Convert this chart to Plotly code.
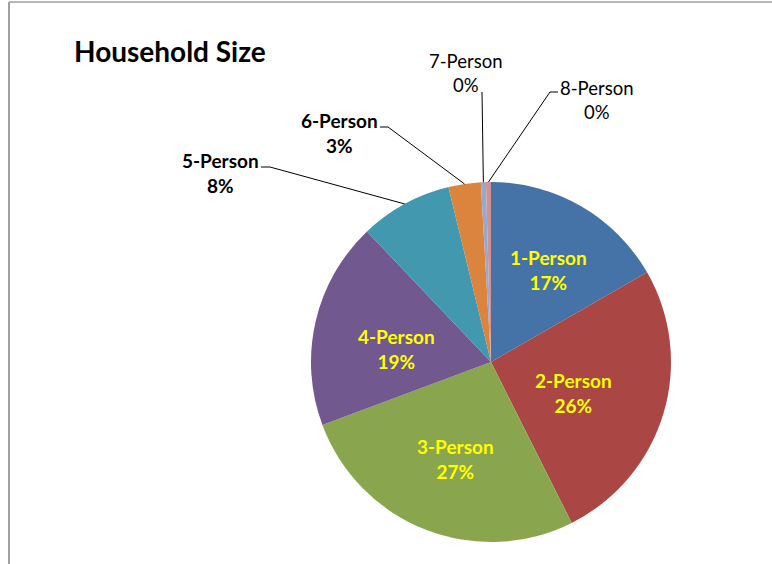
import math
import plotly.graph_objects as go

# Household size distribution (share of households, %)
categories = ["1-Person", "2-Person", "3-Person", "4-Person",
              "5-Person", "6-Person", "7-Person", "8-Person"]
shares = [16.7, 25.9, 26.7, 18.6, 8.3, 2.9, 0.45, 0.45]
colors = ["#4572A7", "#AA4643", "#89A54E", "#71588F",
          "#4198AF", "#DB843D", "#93A9CF", "#D19392"]

W, H = 772, 564
CX, CY, R = 491, 362, 180          # pie centre / radius in pixels
FONT = "Lato"


def px(x):
    return x / W


def py(y):
    return 1 - y / H


fig = go.Figure(go.Pie(
    labels=categories,
    values=shares,
    sort=False,
    direction="clockwise",
    rotation=0,
    marker=dict(colors=colors, line=dict(width=0)),
    textinfo="none",
    hoverinfo="label+percent",
    domain=dict(x=[px(CX - R), px(CX + R)], y=[py(CY + R), py(CY - R)]),
    showlegend=False,
))

# labels inside the slice: radius as fraction of R, angular nudge in degrees
inside_layout = {
    "1-Person": dict(rf=0.605, dang=2.1),
    "2-Person": dict(rf=0.489, dang=3.6),
    "3-Person": dict(rf=0.574, dang=-1.5),
    "4-Person": dict(rf=0.530, dang=-4.9),
}
# labels outside the pie: text centre, elbow start/end, bold
outside_layout = {
    "5-Person": dict(tx=220, ty=173, sx=261, sy=167, ex=270, bold=True),
    "6-Person": dict(tx=339, ty=133, sx=380, sy=127, ex=388, bold=True),
    "7-Person": dict(tx=466, ty=73, sx=482, sy=92, ex=482, bold=False),
    "8-Person": dict(tx=597, ty=100, sx=558, sy=92, ex=550, bold=False),
}

total = sum(shares)
cum = 0.0
annotations = []
shapes = []
for cat, v in zip(categories, shares):
    mid = (cum + v / 2) / total
    cum += v
    pct = round(v / total * 100)
    txt = f"{cat}<br>{pct}%"
    ang = 2 * math.pi * mid
    if cat in inside_layout:
        o = inside_layout[cat]
        a = ang + math.radians(o["dang"])
        r = R * o["rf"]
        annotations.append(dict(
            x=px(CX + r * math.sin(a)), y=py(CY - r * math.cos(a)),
            xref="paper", yref="paper", text=f"<b>{txt}</b>", showarrow=False,
            xanchor="center", yanchor="middle", align="center",
            font=dict(family=FONT, size=19, color="#FFFF00"),
        ))
        continue
    o = outside_layout[cat]
    edge_x = CX + R * math.sin(ang)
    edge_y = CY - R * math.cos(ang)
    annotations.append(dict(
        x=px(o["tx"]), y=py(o["ty"]), xref="paper", yref="paper",
        text=f"<b>{txt}</b>" if o["bold"] else txt,
        showarrow=False, xanchor="center", yanchor="middle", align="center",
        font=dict(family=FONT, size=19 if o["bold"] else 18.5, color="#000000"),
    ))
    path = (f"M{px(o['sx'])},{py(o['sy'])} L{px(o['ex'])},{py(o['sy'])} "
            f"L{px(edge_x)},{py(edge_y)}")
    shapes.append(dict(type="path", xref="paper", yref="paper", path=path,
                       line=dict(color="#000000", width=1)))

annotations.append(dict(
    x=px(72), y=py(51), xref="paper", yref="paper", text="<b>Household Size</b>",
    showarrow=False, xanchor="left", yanchor="middle",
    font=dict(family=FONT, size=28, color="#000000"),
))

# chart-area frame (top and left edges)
shapes.append(dict(type="line", xref="paper", yref="paper",
                   x0=px(9), y0=py(2), x1=1, y1=py(2),
                   line=dict(color="#A0A0A0", width=1.5)))
shapes.append(dict(type="line", xref="paper", yref="paper",
                   x0=px(9), y0=py(2), x1=px(9), y1=0,
                   line=dict(color="#A0A0A0", width=2)))

fig.update_layout(
    width=W, height=H,
    margin=dict(l=0, r=0, t=0, b=0),
    paper_bgcolor="#FFFFFF",
    plot_bgcolor="#FFFFFF",
    annotations=annotations,
    shapes=shapes,
)

fig.write_html("out.html")
